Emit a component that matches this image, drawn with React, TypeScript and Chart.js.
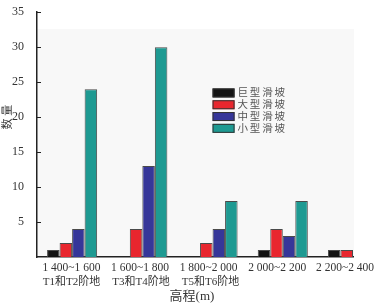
import React, { useEffect, useRef } from "react";
import { Chart, registerables } from "chart.js";

Chart.register(...registerables);

const categories = ["1 400~1 600", "1 600~1 800", "1 800~2 000", "2 000~2 200", "2 200~2 400"];
const subLabels = ["T1和T2阶地", "T3和T4阶地", "T5和T6阶地", "", ""];
const seriesNames = ["巨型滑坡", "大型滑坡", "中型滑坡", "小型滑坡"];
const giant = [1, 0, 0, 1, 1];
const large = [2, 4, 2, 4, 1];
const medium = [4, 13, 4, 3, 0];
const small = [24, 30, 8, 8, 0];
const yTicks = [5, 10, 15, 20, 25, 30, 35];
const colors = ["#141414", "#e8262e", "#363699", "#1e9a92"];

const SERIF = "'Liberation Serif', 'Noto Sans CJK SC', serif";

export default function App() {
  const ref = useRef<HTMLCanvasElement | null>(null);
  useEffect(() => {
    if (!ref.current) return;
    const all = [giant, large, medium, small];
    const overlay = {
      id: "overlay",
      beforeDraw(chart: any) {
        const { ctx, chartArea, scales } = chart;
        ctx.save();
        ctx.fillStyle = "#f8f8f8";
        const top = scales.y.getPixelForValue(32.6);
        ctx.fillRect(chartArea.left, top, chartArea.right - chartArea.left + 1, chartArea.bottom - top);
        ctx.restore();
      },
      afterDraw(chart: any) {
        const { ctx, chartArea, scales } = chart;
        const xs = scales.x;
        const ys = scales.y;
        ctx.save();
        // inner y ticks
        ctx.strokeStyle = "#222";
        ctx.lineWidth = 1;
        yTicks.forEach((v) => {
          const py = Math.round(ys.getPixelForValue(v)) + 0.5;
          ctx.beginPath();
          ctx.moveTo(chartArea.left, py);
          ctx.lineTo(chartArea.left + 4, py);
          ctx.stroke();
        });
        // x labels
        ctx.fillStyle = "#333";
        ctx.textBaseline = "middle";
        ctx.textAlign = "left";
        categories.forEach((c, i) => {
          const px = xs.getPixelForValue(i * 0.977 - 0.01);
          const pSub = xs.getPixelForValue(i * 0.99 - 0.01);
          ctx.font = `11.5px ${SERIF}`;
          const w1 = ctx.measureText(c).width;
          let left = px - w1 / 2;
          if (left + w1 > chart.width - 6) left = chart.width - 6 - w1;
          ctx.fillText(c, left, chartArea.bottom + 11);
          if (subLabels[i]) {
            ctx.font = `11px ${SERIF}`;
            const w2 = ctx.measureText(subLabels[i]).width;
            ctx.fillText(subLabels[i], pSub - w2 / 2, chartArea.bottom + 25);
          }
        });
        // x title
        ctx.font = `13px ${SERIF}`;
        ctx.textAlign = "center";
        ctx.fillText("高程(m)", (chartArea.left + chartArea.right) / 2 - 3, chartArea.bottom + 40);
        // y title
        ctx.save();
        ctx.translate(8, ys.getPixelForValue(20));
        ctx.rotate(-Math.PI / 2);
        ctx.font = `11px ${SERIF}`;
        ctx.fillText("数 量", 0, 0);
        ctx.restore();
        // legend
        const lx = xs.getPixelForValue(2);
        const ly = ys.getPixelForValue(24.1);
        ctx.textAlign = "left";
        ctx.font = `10.5px ${SERIF}`;
        seriesNames.forEach((n, i) => {
          const y0 = ly + i * 11.8;
          ctx.fillStyle = colors[i];
          ctx.fillRect(lx, y0, 22, 9);
          ctx.strokeStyle = "#333";
          ctx.strokeRect(lx + 0.5, y0 + 0.5, 21, 8);
          ctx.fillStyle = "#555";
          let tx = lx + 25;
          for (const ch of n) {
            ctx.fillText(ch, tx, y0 + 5);
            tx += 12.3;
          }
        });
        ctx.restore();
      },
    };
    const chart = new Chart(ref.current, {
      type: "bar",
      data: {
        datasets: all.map((arr, k) => ({
          label: seriesNames[k],
          data: arr.map((v, i) => ({ x: i, y: v || null })),
          backgroundColor: colors[k],
          borderColor: "#4a4a4a",
          borderWidth: 1,
          categoryPercentage: 0.713,
          barPercentage: 1,
        })),
      },
      options: {
        animation: false,
        responsive: false,
        maintainAspectRatio: false,
        layout: { padding: { top: 4, right: 27, left: 0, bottom: 0 } },
        plugins: { legend: { display: false }, tooltip: { enabled: false } },
        scales: {
          x: {
            type: "linear",
            min: -0.5,
            max: 4,
            offset: false,
            grid: { display: false },
            border: { color: "#222", width: 1.5 },
            ticks: { display: false },
            afterFit: (s: any) => {
              s.height = 50;
              s.paddingLeft = 0;
              s.paddingRight = 0;
            },
          },
          y: {
            min: 0,
            max: 35,
            grid: { display: false },
            border: { color: "#222", width: 1.5 },
            afterBuildTicks: (s: any) => {
              s.ticks = [0, ...yTicks].map((v) => ({ value: v }));
            },
            ticks: {
              color: "#333",
              padding: 5,
              font: { family: SERIF, size: 12 },
              callback: (v: any) => (v === 0 ? "" : String(v)),
            },
            afterFit: (s: any) => {
              s.width = 37;
            },
          },
        },
      },
      plugins: [overlay],
    });
    return () => chart.destroy();
  }, []);
  return (
    <div style={{ position: "fixed", left: 0, top: 0, width: 380, height: 307, background: "#fff" }}>
      <canvas ref={ref} width={380} height={307} style={{ width: 380, height: 307, display: "block" }} />
    </div>
  );
}
